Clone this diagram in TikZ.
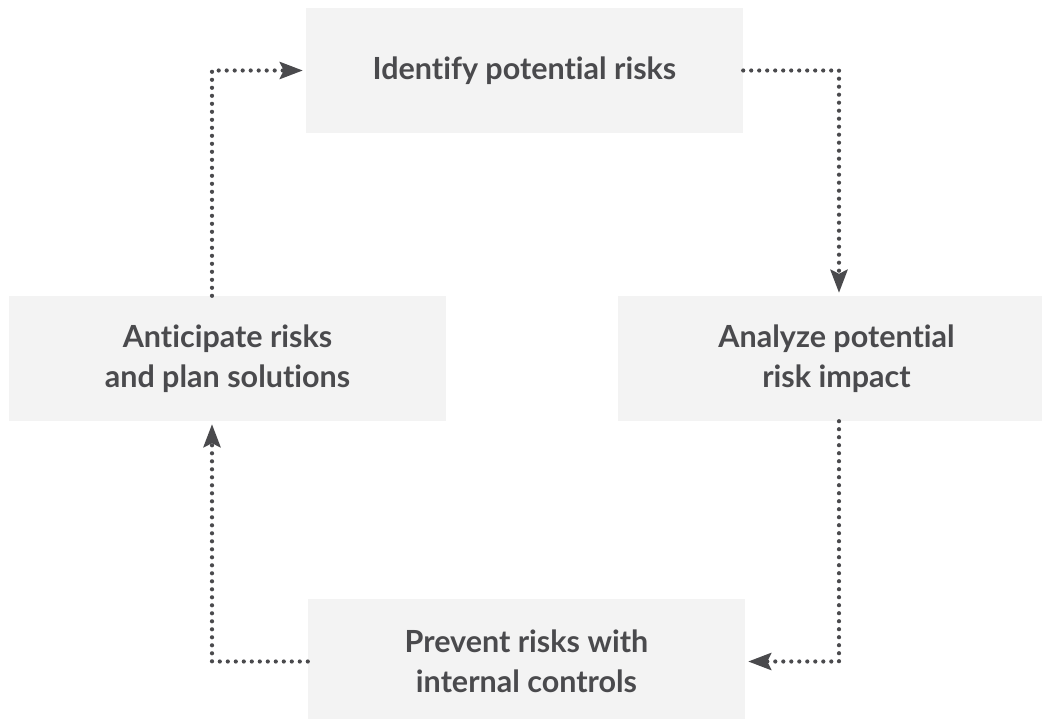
\documentclass[tikz,border=0pt]{standalone}
\usepackage{fontspec}
\setmainfont{Lato}[Ligatures={NoCommon,NoRequired,NoContextual}]
\usepackage{xcolor}
\usetikzlibrary{arrows.meta}
\definecolor{boxgray}{HTML}{F3F3F3}
\definecolor{inkgray}{HTML}{4A4A4D}
\tikzset{
stage/.style={fill=boxgray, minimum width=437pt, minimum height=125pt, align=center,
  text=inkgray, font=\fontsize{30.5}{40}\selectfont\bfseries},
flow/.style={draw=inkgray, line width=4.2pt, line cap=round, dash pattern=on 0pt off 8pt,
  -{Stealth[length=23pt,width=17pt,inset=4pt,line cap=butt,fill=inkgray]}, shorten >=3pt}
}
\begin{document}
\begin{tikzpicture}[x=1pt,y=-1pt]
\path[use as bounding box, clip] (0,0) rectangle (1042,719);

\node[stage] (identify) at (524.5,70.5) {Identify potential risks};
\node[stage] (analyze) at (836.5,358.5) {Analyze potential\\risk impact};
\node[stage] (prevent) at (526.5,661.5) {Prevent risks with\\internal controls};
\node[stage] (anticipate) at (227.5,358.5) {Anticipate risks\\and plan solutions};

\coordinate (rx) at (839,0);
\coordinate (lx) at (212,0);

\draw[flow] (identify.east) -| (rx |- analyze.north);
\draw[flow] (rx |- analyze.south) |- (prevent.east);
\draw[flow] (prevent.west) -| (lx |- anticipate.south);
\draw[flow] (lx |- anticipate.north) |- (identify.west);
\end{tikzpicture}
\end{document}
